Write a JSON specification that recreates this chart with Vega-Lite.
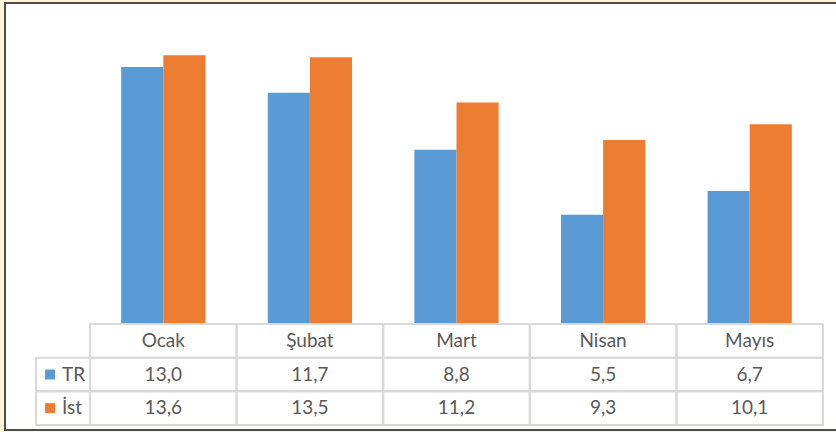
{
  "$schema": "https://vega.github.io/schema/vega-lite/v6.json",
  "width": 831,
  "height": 427,
  "autosize": {"type": "none"},
  "padding": {"left": 5, "top": 3, "right": 0, "bottom": 2},
  "background": "#FFF5D8",
  "config": {
    "view": {"fill": "white", "stroke": "#4d4d4d", "strokeWidth": 2, "strokeDash": [831, 427, 1400]},
    "locale": {"number": {"decimal": ",", "thousands": ".", "grouping": [3], "currency": ["", " TL"]}},
    "text": {"font": "Lato", "fontSize": 19, "color": "#595959"}
  },
  "data": {
    "values": [
      {"month": "Ocak", "series": "TR", "value": 13.0},
      {"month": "Şubat", "series": "TR", "value": 11.7},
      {"month": "Mart", "series": "TR", "value": 8.8},
      {"month": "Nisan", "series": "TR", "value": 5.5},
      {"month": "Mayıs", "series": "TR", "value": 6.7},
      {"month": "Ocak", "series": "İst", "value": 13.6},
      {"month": "Şubat", "series": "İst", "value": 13.5},
      {"month": "Mart", "series": "İst", "value": 11.2},
      {"month": "Nisan", "series": "İst", "value": 9.3},
      {"month": "Mayıs", "series": "İst", "value": 10.1}
    ]
  },
  "resolve": {"scale": {"x": "independent", "y": "independent"}},
  "layer": [
    {
      "mark": {"type": "bar"},
      "encoding": {
        "x": {"field": "month", "type": "nominal", "axis": null,
              "scale": {"domain": ["Ocak", "Şubat", "Mart", "Nisan", "Mayıs"], "range": [85, 818], "paddingInner": 0, "paddingOuter": 0}},
        "xOffset": {"field": "series", "type": "nominal",
                    "scale": {"domain": ["TR", "İst"], "paddingInner": 0, "paddingOuter": 0.74}},
        "y": {"field": "value", "type": "quantitative", "axis": null,
              "scale": {"domain": [0, 16], "range": [320, 5], "nice": false}},
        "color": {"field": "series", "type": "nominal", "legend": null,
                  "scale": {"domain": ["TR", "İst"], "range": ["#5B9BD5", "#ED7D31"]}}
      }
    },
    {
      "transform": [{"filter": "datum.series === 'TR'"}],
      "mark": {"type": "rect", "fill": "white", "fillOpacity": 0, "stroke": "#D9D9D9", "strokeWidth": 2},
      "encoding": {
        "x": {"field": "month", "type": "nominal", "axis": null,
              "scale": {"domain": ["Ocak", "Şubat", "Mart", "Nisan", "Mayıs"], "range": [85, 818], "paddingInner": 0, "paddingOuter": 0}},
        "y": {"datum": "head", "type": "nominal", "axis": null,
              "scale": {"domain": ["head", "TR", "İst"], "range": [321, 422], "paddingInner": 0, "paddingOuter": 0}}
      }
    },
    {
      "mark": {"type": "rect", "fill": "white", "fillOpacity": 0, "stroke": "#D9D9D9", "strokeWidth": 2},
      "encoding": {
        "x": {"field": "month", "type": "nominal", "axis": null,
              "scale": {"domain": ["Ocak", "Şubat", "Mart", "Nisan", "Mayıs"], "range": [85, 818], "paddingInner": 0, "paddingOuter": 0}},
        "y": {"field": "series", "type": "nominal", "axis": null,
              "scale": {"domain": ["head", "TR", "İst"], "range": [321, 422], "paddingInner": 0, "paddingOuter": 0}}
      }
    },
    {
      "transform": [{"filter": "datum.month === 'Ocak'"}],
      "mark": {"type": "rect", "fill": "white", "fillOpacity": 0, "stroke": "#D9D9D9", "strokeWidth": 2},
      "encoding": {
        "x": {"datum": 0, "type": "quantitative", "axis": null,
              "scale": {"domain": [0, 1], "range": [31, 85], "nice": false, "zero": false}},
        "x2": {"datum": 1},
        "y": {"field": "series", "type": "nominal", "axis": null,
              "scale": {"domain": ["head", "TR", "İst"], "range": [321, 422], "paddingInner": 0, "paddingOuter": 0}}
      }
    },
    {
      "transform": [{"filter": "datum.series === 'TR'"}],
      "mark": {"type": "text", "baseline": "middle", "align": "center"},
      "encoding": {
        "x": {"field": "month", "type": "nominal", "axis": null,
              "scale": {"domain": ["Ocak", "Şubat", "Mart", "Nisan", "Mayıs"], "range": [85, 818], "paddingInner": 0, "paddingOuter": 0}},
        "y": {"datum": "head", "type": "nominal", "axis": null,
              "scale": {"domain": ["head", "TR", "İst"], "range": [321, 422], "paddingInner": 0, "paddingOuter": 0}},
        "text": {"field": "month", "type": "nominal"}
      }
    },
    {
      "mark": {"type": "text", "baseline": "middle", "align": "center"},
      "encoding": {
        "x": {"field": "month", "type": "nominal", "axis": null,
              "scale": {"domain": ["Ocak", "Şubat", "Mart", "Nisan", "Mayıs"], "range": [85, 818], "paddingInner": 0, "paddingOuter": 0}},
        "y": {"field": "series", "type": "nominal", "axis": null,
              "scale": {"domain": ["head", "TR", "İst"], "range": [321, 422], "paddingInner": 0, "paddingOuter": 0}},
        "text": {"field": "value", "type": "quantitative", "format": ".1f"}
      }
    },
    {
      "transform": [{"filter": "datum.month === 'Ocak'"}],
      "mark": {"type": "point", "shape": "square", "filled": true, "size": 100, "opacity": 1},
      "encoding": {
        "x": {"datum": 0.26, "type": "quantitative", "axis": null,
              "scale": {"domain": [0, 1], "range": [31, 85], "nice": false, "zero": false}},
        "y": {"field": "series", "type": "nominal", "axis": null,
              "scale": {"domain": ["head", "TR", "İst"], "range": [321, 422], "paddingInner": 0, "paddingOuter": 0}},
        "color": {"field": "series", "type": "nominal", "legend": null,
                  "scale": {"domain": ["TR", "İst"], "range": ["#5B9BD5", "#ED7D31"]}}
      }
    },
    {
      "transform": [{"filter": "datum.month === 'Ocak'"}],
      "mark": {"type": "text", "baseline": "middle", "align": "left"},
      "encoding": {
        "x": {"datum": 0.48, "type": "quantitative", "axis": null,
              "scale": {"domain": [0, 1], "range": [31, 85], "nice": false, "zero": false}},
        "y": {"field": "series", "type": "nominal", "axis": null,
              "scale": {"domain": ["head", "TR", "İst"], "range": [321, 422], "paddingInner": 0, "paddingOuter": 0}},
        "text": {"field": "series", "type": "nominal"}
      }
    }
  ]
}
